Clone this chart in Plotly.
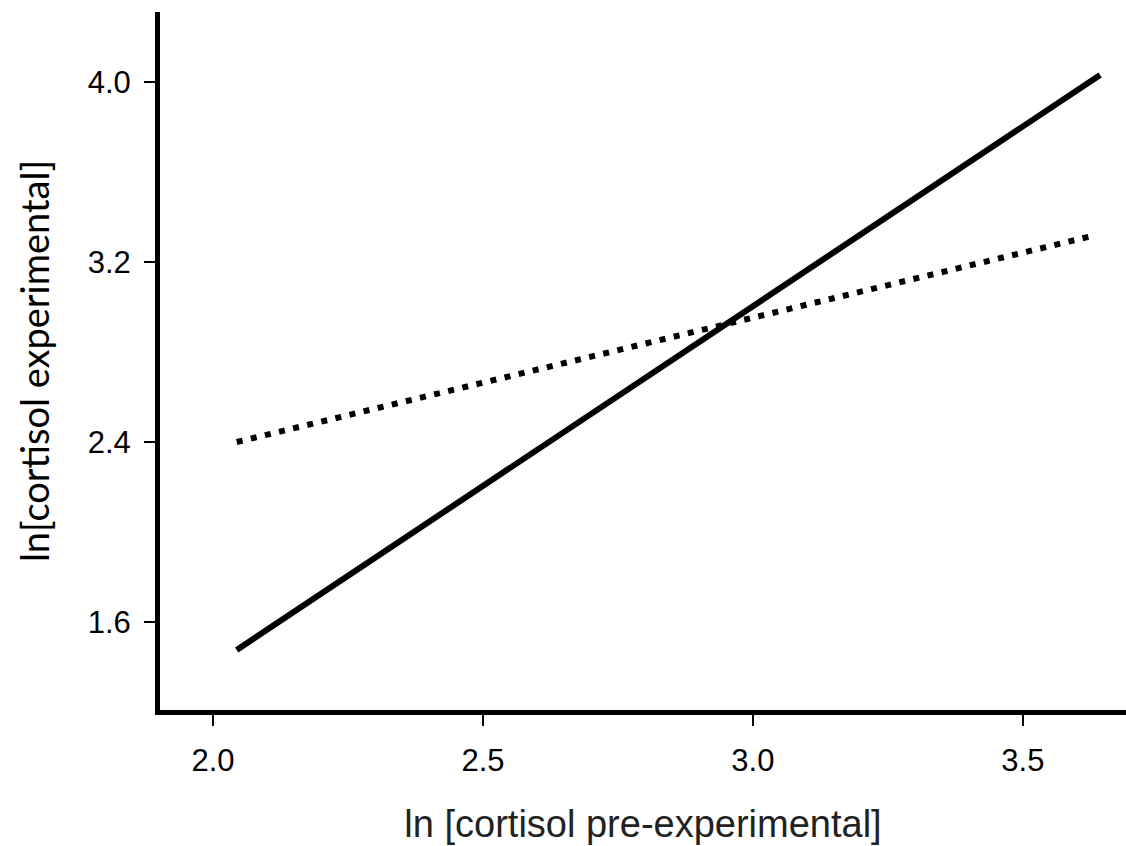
import plotly.graph_objects as go

# data
solid_x = [2.044, 3.643]
solid_y = [1.476, 4.031]
dotted_x = [2.044, 3.622]
dotted_y = [2.400, 3.312]
x_ticks = [2.0, 2.5, 3.0, 3.5]
x_tick_labels = ["2.0", "2.5", "3.0", "3.5"]
y_ticks = [1.6, 2.4, 3.2, 4.0]
y_tick_labels = ["1.6", "2.4", "3.2", "4.0"]

fig = go.Figure()
fig.add_trace(go.Scatter(x=solid_x, y=solid_y, mode="lines",
                         line=dict(color="black", width=6), showlegend=False))
fig.add_trace(go.Scatter(x=dotted_x, y=dotted_y, mode="lines",
                         line=dict(color="black", width=6, dash="6px,8.5px"), showlegend=False))

fig.update_layout(
    width=1126, height=846,
    margin=dict(l=160, r=0, t=12, b=136),
    paper_bgcolor="white", plot_bgcolor="white",
    xaxis=dict(range=[1.9019, 3.691], tickvals=x_ticks, ticktext=x_tick_labels,
               showline=True, linecolor="black", linewidth=5, showgrid=False, zeroline=False,
               ticks="outside", ticklen=11, tickwidth=2, tickcolor="black",
               tickfont=dict(family="Liberation Sans, Arial", size=31, color="black"),
               ticklabelstandoff=8,
               title=dict(text="ln [cortisol pre-experimental]", standoff=35,
                          font=dict(family="Liberation Sans, Arial", size=38, color="#222"))),
    yaxis=dict(range=[1.2089, 4.311], tickvals=y_ticks, ticktext=y_tick_labels,
               showline=True, linecolor="black", linewidth=5, showgrid=False, zeroline=False,
               ticks="outside", ticklen=11, tickwidth=2, tickcolor="black",
               tickfont=dict(family="Liberation Sans, Arial", size=31, color="black"),
               ticklabelstandoff=7,
               title=dict(text="ln[cortisol experimental]", standoff=28,
                          font=dict(family="Lato, Open Sans", size=38, color="black"))),
)
fig.write_html("out.html")
